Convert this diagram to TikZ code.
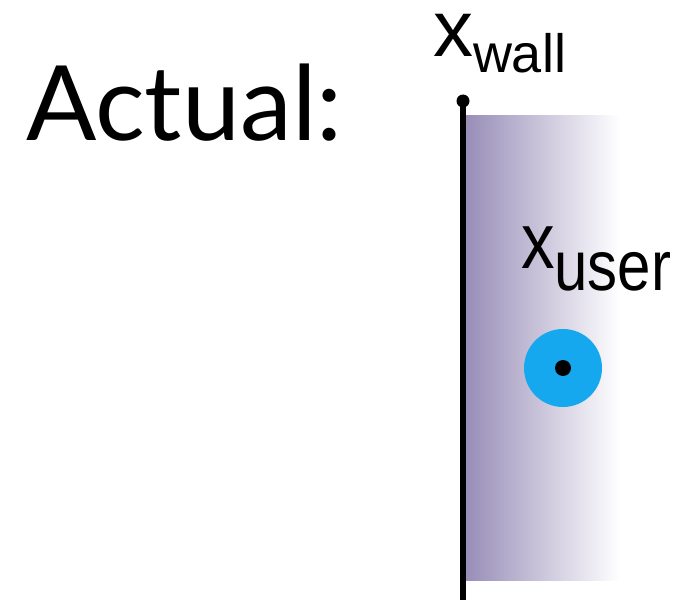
\documentclass[tikz,border=0pt]{standalone}
\usepackage{fontspec}
\usepackage{graphicx}
\newfontfamily\titlefont{Lato}
\newfontfamily\labelfont{Liberation Sans}
\definecolor{wallpurple}{RGB}{152,142,184}
\definecolor{userblue}{RGB}{22,168,238}
\tikzset{
  label/.style={inner sep=0pt, outer sep=0pt, anchor=base west, font=\labelfont},
  wallline/.style={line width=6pt, black},
}
\begin{document}
\begin{tikzpicture}[x=1pt,y=1pt]
\useasboundingbox (0,0) rectangle (681,-602);
% the region on the user's side of the wall
\shade[left color=wallpurple, right color=white] (466,-116) rectangle (620,-580);
\node[inner sep=0pt, anchor=base west, font=\titlefont\fontsize{104}{106}\selectfont] (title) at (26,-141) {Actual:};
% the wall
\coordinate (walltop) at (463,-101);
\coordinate (wallbot) at (463,-600);
\draw[wallline] (walltop) -- (wallbot);
\fill (walltop) circle (6.5);
\node[label] (xwall) at (433,-57) {\fontsize{80}{80}\selectfont x\raisebox{-16pt}{\fontsize{54}{54}\selectfont wall}};
% the user
\node[circle, fill=userblue, minimum size=78pt, inner sep=0pt] (user) at (563,-368) {};
\fill (user.center) circle (8);
\node[label] (xuser) at (521,-268) {\scalebox{1}[1.18]{\fontsize{67}{67}\selectfont x\raisebox{-19pt}{\fontsize{60}{60}\selectfont user}}};
\end{tikzpicture}
\end{document}
